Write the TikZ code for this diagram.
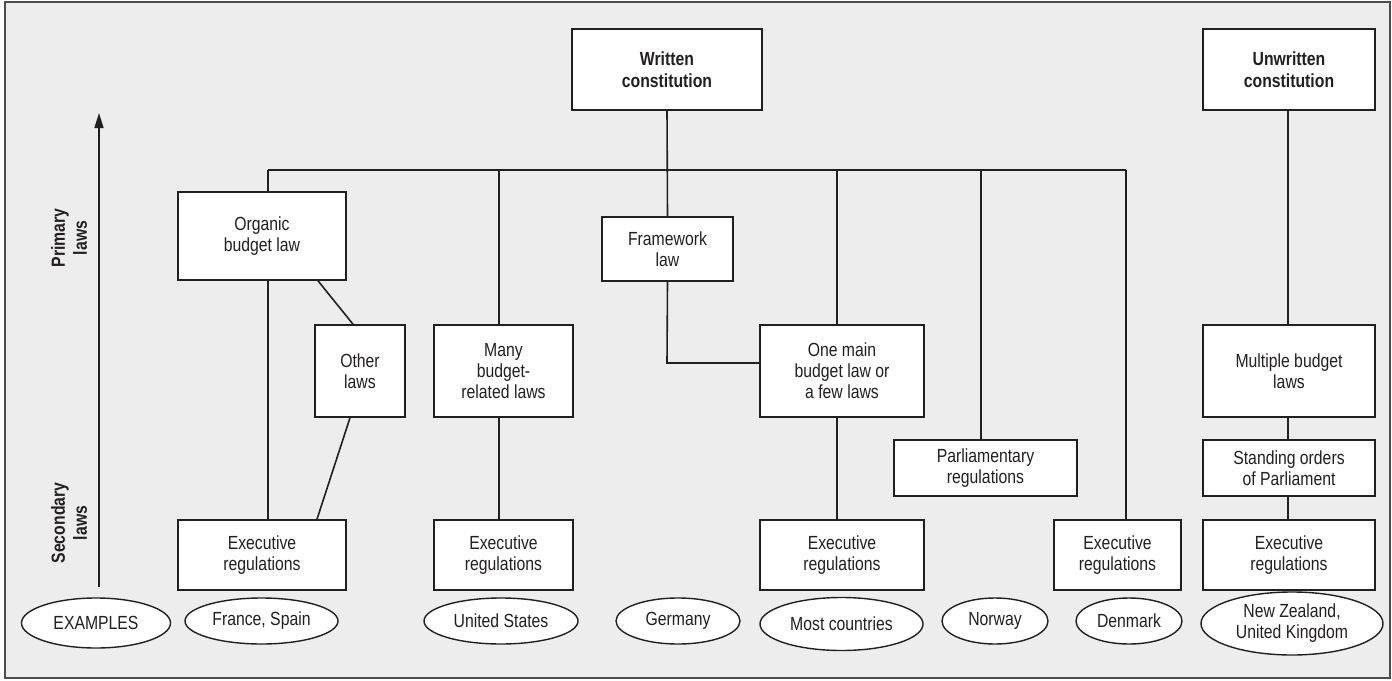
\documentclass[tikz,border=0pt]{standalone}
\usepackage{fontspec}
\setmainfont{Liberation Sans}[FakeStretch=0.83]
\usetikzlibrary{shapes.geometric,arrows.meta}
\definecolor{bg}{HTML}{EDEDED}
\definecolor{ink}{HTML}{231F20}
\begin{document}
\begin{tikzpicture}[x=1pt,y=-1pt,
  every node/.style={font=\fontsize{19}{21}\selectfont, text=ink},
  box/.style={draw=ink, fill=white, line width=1.6pt, rectangle, align=center, inner sep=0pt},
  oval/.style={draw=ink, fill=white, line width=1.4pt, ellipse, align=center, inner sep=0pt},
  conn/.style={draw=ink, line width=1.6pt},
  axislbl/.style={font=\bfseries\fontsize{19}{22}\selectfont, rotate=90, align=center}]
\useasboundingbox (0,0) rectangle (1392,680);
\draw[fill=bg, draw=ink!80, line width=1.6pt] (5,2) rectangle (1390,678);

% top boxes
\node[box, minimum width=190pt, minimum height=81pt, font=\bfseries\fontsize{19}{21.5}\selectfont] (wc) at (667,69.5) {Written\\constitution};
\node[box, minimum width=172pt, minimum height=81pt, font=\bfseries\fontsize{19}{21.5}\selectfont] (uc) at (1289,69.5) {Unwritten\\constitution};

% primary level
\node[box, minimum width=168pt, minimum height=88pt] (org) at (262,236) {Organic\\budget law};
\node[box, minimum width=90pt, minimum height=92pt] (oth) at (360,371) {Other\\laws};
\node[box, minimum width=139pt, minimum height=92pt] (many) at (503.5,371) {Many\\budget-\\related laws};
\node[box, minimum width=131pt, minimum height=64pt] (fw) at (667.5,249) {Framework\\law};
\node[box, minimum width=164pt, minimum height=92pt] (one) at (842,371) {One main\\budget law or\\a few laws};
\node[box, minimum width=172pt, minimum height=92pt] (mult) at (1289,371) {Multiple budget\\laws};
\node[box, minimum width=183pt, minimum height=56pt] (parl) at (985.5,468) {Parliamentary\\regulations};
\node[box, minimum width=172pt, minimum height=56pt] (stand) at (1289,468) {Standing orders\\of Parliament};

% executive regulations
\node[box, minimum width=168pt, minimum height=70pt] (ex1) at (262,555) {Executive\\regulations};
\node[box, minimum width=139pt, minimum height=70pt] (ex2) at (503.5,555) {Executive\\regulations};
\node[box, minimum width=164pt, minimum height=70pt] (ex3) at (842,555) {Executive\\regulations};
\node[box, minimum width=127pt, minimum height=70pt] (ex4) at (1117.5,555) {Executive\\regulations};
\node[box, minimum width=172pt, minimum height=70pt] (ex5) at (1289,555) {Executive\\regulations};

% examples
\node[oval, minimum width=149pt, minimum height=50pt] (e0) at (96,623) {EXAMPLES};
\node[oval, minimum width=153pt, minimum height=46pt] (e1) at (261.5,621) {France, Spain};
\node[oval, minimum width=154pt, minimum height=46pt] (e2) at (501,621) {United States};
\node[oval, minimum width=124pt, minimum height=46pt] (e3) at (678,621) {Germany};
\node[oval, minimum width=163pt, minimum height=53pt] (e4) at (841.5,624) {Most countries};
\node[oval, minimum width=106pt, minimum height=46pt] (e5) at (995,621) {Norway};
\node[oval, minimum width=106pt, minimum height=46pt] (e6) at (1129,621) {Denmark};
\node[oval, minimum width=182pt, minimum height=63pt] (e7) at (1292,623.5) {New Zealand,\\United Kingdom};

% axis
\coordinate (ab) at (99,587);
\coordinate (at) at (99,113);
\draw[conn, -{Triangle[length=15pt,width=9pt]}] (ab) -- (at);
\node[axislbl] (pl) at (69,238) {Primary\\laws};
\node[axislbl] (sl) at (69,523) {Secondary\\laws};

% bus
\coordinate (b1) at (268,170);
\coordinate (b2) at (499,170);
\coordinate (b4) at (837,170);
\coordinate (b5) at (981,170);
\coordinate (b6) at (1126,170);
\draw[conn] (b1) -- (b6);
\draw[conn] (wc.south) -- (fw.north);
\draw[conn] (b1) -- (b1 |- org.north);
\draw[conn] (org.south -| b1) -- (ex1.north -| b1);
\draw[conn] (org.south -| 318,0) -- (oth.north -| 353,0);
\draw[conn] (oth.south -| 350,0) -- (ex1.north -| 317,0);
\draw[conn] (b2) -- (b2 |- many.north);
\draw[conn] (many.south -| b2) -- (ex2.north -| b2);
\coordinate (fc) at (667,363);
\draw[conn] (fw.south) -- (fc) -- (one.west |- fc);
\draw[conn] (b4) -- (b4 |- one.north);
\draw[conn] (one.south -| b4) -- (ex3.north -| b4);
\draw[conn] (b5) -- (b5 |- parl.north);
\draw[conn] (b6) -- (b6 |- ex4.north);
\draw[conn] (uc.south -| 1288,0) -- (mult.north -| 1288,0);
\draw[conn] (mult.south -| 1288,0) -- (stand.north -| 1288,0);
\draw[conn] (stand.south -| 1288,0) -- (ex5.north -| 1288,0);
\end{tikzpicture}
\end{document}
